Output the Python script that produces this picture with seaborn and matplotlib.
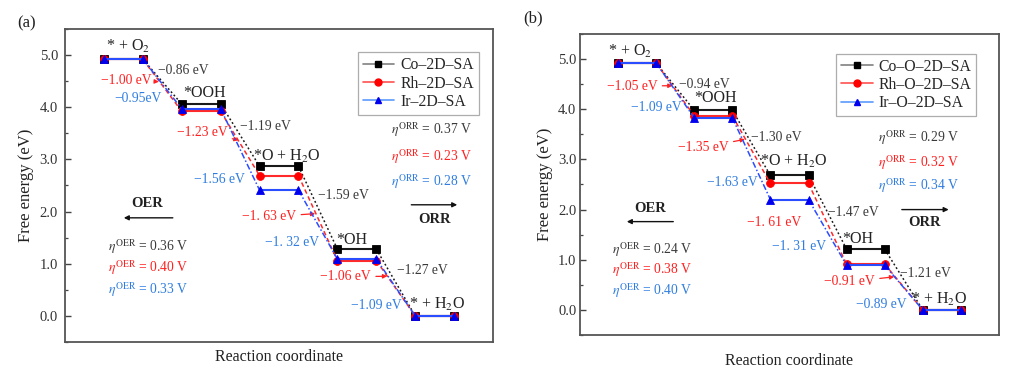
import numpy as np
import pandas as pd
import seaborn as sns
import matplotlib
matplotlib.use("Agg")
import matplotlib.pyplot as plt
from matplotlib.lines import Line2D

# ---------------- data ----------------
levels = ["* + O$_2$", "*OOH", "*O + H$_2$O", "*OH", "* + H$_2$O"]

a_names = ["Co\u20132D\u2013SA", "Rh\u20132D\u2013SA", "Ir\u20132D\u2013SA"]
a_co = [4.92, 4.06, 2.87, 1.28, 0.00]
a_rh = [4.92, 3.92, 2.69, 1.06, 0.00]
a_ir = [4.92, 3.97, 2.41, 1.09, 0.00]
a_co_steps = ["\u22120.86 eV", "\u22121.19 eV", "\u22121.59 eV", "\u22121.27 eV"]
a_rh_steps = ["\u22121.00 eV", "\u22121.23 eV", "\u22121. 63 eV", "\u22121.06 eV"]
a_ir_steps = ["\u22120.95eV", "\u22121.56 eV", "\u22121. 32 eV", "\u22121.09 eV"]
a_eta_orr = ["0.37", "0.23", "0.28"]
a_eta_oer = ["0.36", "0.40", "0.33"]

b_names = ["Co\u2013O\u20132D\u2013SA", "Rh\u2013O\u20132D\u2013SA", "Ir\u2013O\u20132D\u2013SA"]
b_co = [4.92, 3.98, 2.68, 1.21, 0.00]
b_rh = [4.92, 3.87, 2.52, 0.91, 0.00]
b_ir = [4.92, 3.83, 2.20, 0.89, 0.00]
b_co_steps = ["\u22120.94 eV", "\u22121.30 eV", "\u22121.47 eV", "\u22121.21 eV"]
b_rh_steps = ["\u22121.05 eV", "\u22121.35 eV", "\u22121. 61 eV", "\u22120.91 eV"]
b_ir_steps = ["\u22121.09 eV", "\u22121.63 eV", "\u22121. 31 eV", "\u22120.89 eV"]
b_eta_orr = ["0.29", "0.32", "0.34"]
b_eta_oer = ["0.24", "0.38", "0.40"]

# ---------------- style ----------------
sns.set_theme(style="ticks")
plt.rcParams["font.family"] = ["Liberation Serif", "DejaVu Serif"]
plt.rcParams["mathtext.fontset"] = "stix"
plt.rcParams["axes.unicode_minus"] = True

TXT = ["#3a3a3a", "#ff2020", "#2f7de0"]
LINE = ["#1a1a1a", "#ff2a2a", "#2a4dff"]
LEG_LINE = ["#808080", "#ff5050", "#5a9aff"]
MARK = ["s", "o", "^"]
MCOL = ["#000000", "#ff0000", "#0000ee"]
CONN_LS = [(0, (1.2, 1.6)), (0, (3, 2)), (0, (4, 1.5, 1, 1.5))]


def draw_panel(ax, series, names, steps, eta_orr, eta_oer, lay):
    # platforms
    for k, g in enumerate(series):
        xs, ys, us = [], [], []
        for i, v in enumerate(g):
            xs += [2 * i, 2 * i + 1]
            ys += [v, v]
            us += [i, i]
        df = pd.DataFrame({"x": xs, "G": ys, "u": us})
        sns.lineplot(data=df, x="x", y="G", units="u", estimator=None,
                     color=LINE[k], lw=1.5, marker=MARK[k], markersize=5.6,
                     markerfacecolor=MCOL[k], markeredgecolor=MCOL[k],
                     markeredgewidth=0.6, ax=ax, legend=False, zorder=3 + k)
        # connectors
        for i in range(len(g) - 1):
            ax.plot([2 * i + 1, 2 * i + 2], [g[i], g[i + 1]], color=LINE[k],
                    lw=1.1, ls=CONN_LS[k], zorder=2 + k)

    # level labels
    for t, (x, y) in zip(levels, lay["levels"]):
        ax.text(x, y, t, ha="center", va="center", fontsize=11.5, color="#222")

    # step labels
    for t, (x, y) in zip(steps[0], lay["co"]):
        ax.text(x, y, t, ha="left", va="center", fontsize=9.8, color=TXT[0])
    for t, (x, y, tip) in zip(steps[1], lay["rh"]):
        if tip is None:
            ax.text(x, y, t, ha="right", va="center", fontsize=9.8, color=TXT[1])
        else:
            ax.annotate(t, xy=tip, xytext=(x, y), ha="right", va="center",
                        fontsize=9.8, color=TXT[1],
                        arrowprops=dict(arrowstyle="-|>", color=TXT[1], lw=0.9,
                                        mutation_scale=6, shrinkA=1, shrinkB=0))
    for t, (x, y) in zip(steps[2], lay["ir"]):
        ax.text(x, y, t, ha="center", va="center", fontsize=9.8, color=TXT[2])

    # overpotentials
    ox, oys = lay["eta_orr"]
    for k, (v, y) in enumerate(zip(eta_orr, oys)):
        ax.text(ox, y, r"$\eta^{\mathrm{ORR}}$ = " + v + " V", ha="right",
                va="center", fontsize=9.8, color=TXT[k])
    ex, eys = lay["eta_oer"]
    for k, (v, y) in enumerate(zip(eta_oer, eys)):
        ax.text(ex, y, r"$\eta^{\mathrm{OER}}$ = " + v + " V", ha="left",
                va="center", fontsize=9.8, color=TXT[k])

    # ORR / OER arrows
    (x0, x1, ya), (lx, ly) = lay["orr"]
    ax.annotate("", xy=(x1, ya), xytext=(x0, ya),
                arrowprops=dict(arrowstyle="-|>", color="#111", lw=1.0,
                                mutation_scale=7, shrinkA=0, shrinkB=0))
    ax.text(lx, ly, "ORR", ha="center", va="center", fontsize=10.5,
            fontweight="bold", color="#222")
    (x0, x1, ya), (lx, ly) = lay["oer"]
    ax.annotate("", xy=(x1, ya), xytext=(x0, ya),
                arrowprops=dict(arrowstyle="-|>", color="#111", lw=1.0,
                                mutation_scale=7, shrinkA=0, shrinkB=0))
    ax.text(lx, ly, "OER", ha="center", va="center", fontsize=10.5,
            fontweight="bold", color="#222")

    # axes
    ax.set_xlim(-1, 10)
    ax.set_ylim(-0.5, 5.5)
    ax.set_xticks([])
    ax.set_yticks([0, 1, 2, 3, 4, 5])
    ax.set_yticks(np.arange(-0.5, 5.6, 0.5), minor=True)
    ax.set_yticklabels(["0.0", "1.0", "2.0", "3.0", "4.0", "5.0"])
    ax.tick_params(axis="y", which="major", length=4.5, width=1.0, colors="#444",
                   labelsize=10.5, labelcolor="#333", direction="in",
                   pad=lay["tpad"])
    ax.tick_params(axis="y", which="minor", length=2.5, width=0.9, colors="#444",
                   direction="in")
    for s in ax.spines.values():
        s.set_visible(True)
        s.set_color("#555")
        s.set_linewidth(1.3)
    ax.set_xlabel("Reaction coordinate", fontsize=11.5, color="#222",
                  labelpad=lay["xpad"])
    ax.set_ylabel("Free energy (eV)", fontsize=12, color="#222", labelpad=4)

    handles = [Line2D([0], [0], color=LEG_LINE[k], lw=1.2, marker=MARK[k],
                      markersize=5, markerfacecolor=MCOL[k],
                      markeredgecolor=MCOL[k]) for k in range(3)]
    leg = ax.legend(handles, names, loc="upper right", fontsize=11.3,
                    frameon=True, fancybox=False, edgecolor="#999",
                    handlelength=2.0, handletextpad=0.4, borderpad=0.3,
                    labelspacing=0.15, bbox_to_anchor=lay["leg"])
    leg.get_frame().set_linewidth(0.9)


fig = plt.figure(figsize=(10.18, 3.74), dpi=100)
ax_a = fig.add_axes([0.0639, 0.0856, 0.4204, 0.8369])
ax_b = fig.add_axes([0.5697, 0.1043, 0.4116, 0.8048])

lay_a = {
    "levels": [(0.62, 5.17), (2.59, 4.27), (4.70, 3.06), (6.36, 1.46), (8.55, 0.21)],
    "co": [(1.38, 4.71), (3.49, 3.63), (5.49, 2.31), (7.54, 0.87)],
    "rh": [(1.23, 4.52, (1.41, 4.49)), (3.18, 3.52, (3.46, 3.37)),
           (4.95, 1.90, (5.43, 1.96)), (6.87, 0.75, (7.28, 0.76))],
    "ir": [(0.88, 4.17), (2.97, 2.62), (4.83, 1.40), (7.00, 0.19)],
    "eta_orr": (9.46, [3.58, 3.06, 2.58]),
    "eta_oer": (0.10, [1.33, 0.92, 0.50]),
    "orr": ((7.90, 9.08, 2.13), (8.49, 1.85)),
    "oer": ((1.77, 0.51, 1.88), (1.10, 2.15)),
    "xpad": 5,
    "tpad": 5,
    "leg": (0.985, 0.95),
}
lay_b = {
    "levels": [(0.31, 5.16), (2.55, 4.22), (4.62, 2.96), (6.29, 1.42), (8.42, 0.20)],
    "co": [(1.61, 4.50), (3.48, 3.44), (5.51, 1.94), (7.40, 0.72)],
    "rh": [(1.04, 4.46, (1.43, 4.47)), (2.91, 3.24, (3.33, 3.40)),
           (4.80, 1.74, None), (6.75, 0.56, (7.25, 0.66))],
    "ir": [(1.01, 4.04), (2.99, 2.54), (4.75, 1.26), (6.90, 0.10)],
    "eta_orr": (8.96, [3.44, 2.94, 2.48]),
    "eta_oer": (-0.16, [1.20, 0.80, 0.38]),
    "orr": ((7.45, 8.68, 2.00), (8.05, 1.74)),
    "oer": ((1.45, 0.23, 1.76), (0.84, 2.02)),
    "xpad": 13,
    "tpad": 2.5,
    "leg": (0.965, 0.96),
}

draw_panel(ax_a, [a_co, a_rh, a_ir], a_names,
           [a_co_steps, a_rh_steps, a_ir_steps], a_eta_orr, a_eta_oer, lay_a)
draw_panel(ax_b, [b_co, b_rh, b_ir], b_names,
           [b_co_steps, b_rh_steps, b_ir_steps], b_eta_orr, b_eta_oer, lay_b)

fig.text(17 / 1018, 1 - 23 / 374, "(a)", fontsize=12, ha="left", va="center", color="#222")
fig.text(523 / 1018, 1 - 18 / 374, "(b)", fontsize=12, ha="left", va="center", color="#222")

fig.savefig("out.png", dpi=100)
